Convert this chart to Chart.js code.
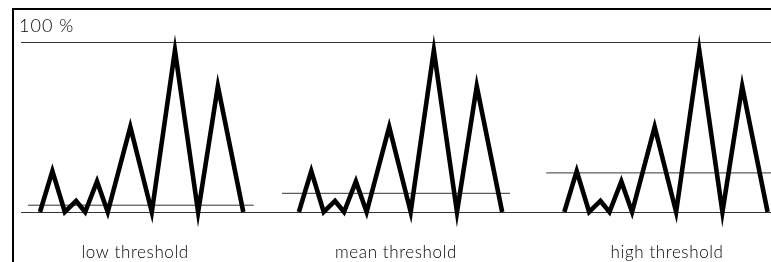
<!DOCTYPE html>
<html>
<head>
<meta charset="utf-8">
<script src="https://cdn.jsdelivr.net/npm/chart.js@4.4.1/dist/chart.umd.min.js"></script>
<style>
  html, body { margin: 0; padding: 0; background: #fff; }
  #wrap { position: relative; width: 771px; height: 262px; overflow: hidden; }
  #frame { position: absolute; left: 12px; top: 8px; right: -4px; bottom: -4px;
           border-top: 2px solid #000; border-left: 2px solid #000; }
  #c { position: absolute; left: 0; top: 0; }
</style>
</head>
<body>
<div id="wrap">
  <div id="frame"></div>
  <canvas id="c" width="771" height="262"></canvas>
</div>
<script>
// ---- data ----
const groupNames = ["low threshold", "mean threshold", "high threshold"];
// sample positions inside one group (time units)
const sampleX = [0, 1.1, 2.2, 3.2, 4.0, 5.05, 6.0, 8.0, 9.9, 11.95, 14.0, 15.75, 18.0];
// signal values in percent of maximum
const spikeValues = [0, 24, 0, 6.5, 0, 18, 0, 50, 0, 95, 0, 74, 0];
// where each group starts on the time axis
const groupStart = [1.68, 24.6, 48.1];
// threshold levels (percent)
const thresholdValues = [4, 11, 23];
const thresholdFrom = [0.62, 23.1, 46.5];
const thresholdTo = [20.6, 43.3, 66.4];
// label centres on the time axis
const labelX = [10.1, 33.2, 57.2];
const yTicks = [0, 100];
const topLabel = "100 %";
const xMin = 0, xMax = 66.4;

// ---- build datasets ----
const datasets = [];
groupStart.forEach((g, gi) => {
  datasets.push({
    data: sampleX.map((x, i) => ({ x: g + x, y: spikeValues[i] })),
    borderColor: '#000',
    borderWidth: 4.6,
    borderJoinStyle: 'miter',
    pointRadius: 0,
    tension: 0,
    clip: false,
    order: 1
  });
  datasets.push({
    data: [{ x: thresholdFrom[gi], y: thresholdValues[gi] }, { x: thresholdTo[gi], y: thresholdValues[gi] }],
    borderColor: '#333',
    borderWidth: 1,
    pointRadius: 0,
    clip: false,
    order: 2
  });
});

const textPlugin = {
  id: 'texts',
  afterDraw(chart) {
    const ctx = chart.ctx;
    const xs = chart.scales.x, ys = chart.scales.y;
    ctx.save();
    ctx.fillStyle = '#000';
    ctx.textBaseline = 'alphabetic';
    ctx.textAlign = 'left';
    ctx.font = '300 18px Lato';
    ctx.letterSpacing = '1px';
    ctx.fillText(topLabel, chart.chartArea.left - 2, ys.getPixelForValue(100) - 10);
    ctx.font = '300 17px Lato';
    ctx.letterSpacing = '0.6px';
    ctx.textAlign = 'center';
    groupNames.forEach((n, i) => {
      ctx.fillText(n, xs.getPixelForValue(labelX[i]), ys.getPixelForValue(0) + 46);
    });
    ctx.restore();
  }
};

new Chart(document.getElementById('c'), {
  type: 'line',
  data: { datasets },
  options: {
    responsive: false,
    animation: false,
    devicePixelRatio: 1,
    layout: { padding: { top: 42, bottom: 50, left: 21, right: 0 } },
    plugins: { legend: { display: false }, tooltip: { enabled: false } },
    scales: {
      x: { type: 'linear', min: xMin, max: xMax, display: false },
      y: {
        type: 'linear', min: 0, max: 100,
        afterBuildTicks: (s) => { s.ticks = yTicks.map(v => ({ value: v })); },
        afterFit: (s) => { s.width = 0; },
        ticks: { display: false },
        grid: { color: '#333', lineWidth: 1, drawTicks: false },
        border: { display: false }
      }
    }
  },
  plugins: [textPlugin]
});
</script>
</body>
</html>
